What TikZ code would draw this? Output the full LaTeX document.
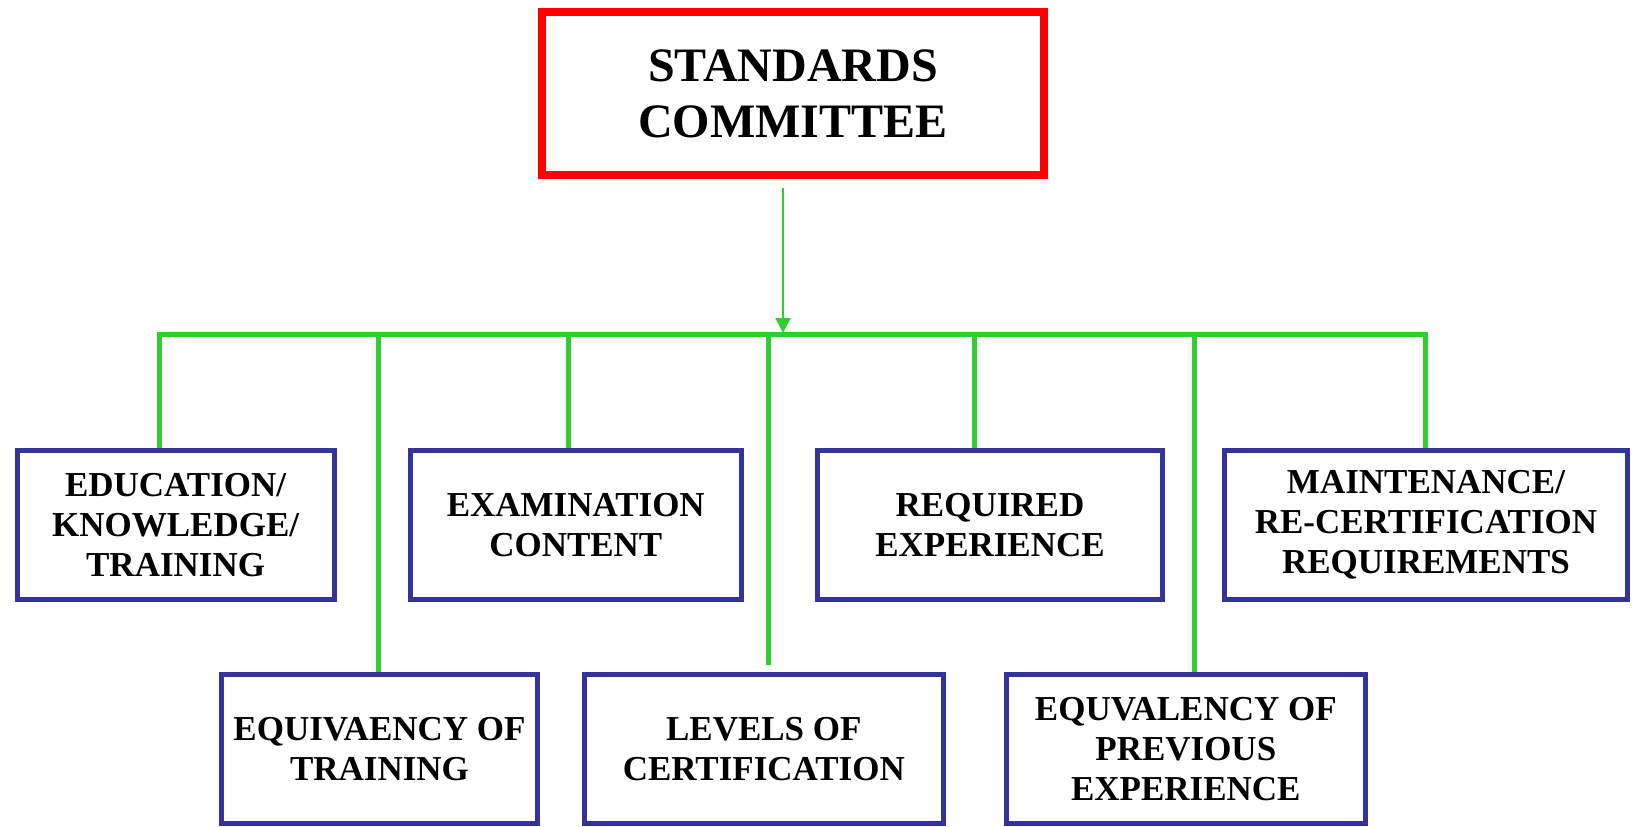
\documentclass[tikz,border=0pt]{standalone}
\usepackage{fontspec}
\setmainfont{Liberation Serif}
\usetikzlibrary{arrows.meta}
\definecolor{boxred}{RGB}{255,0,0}
\definecolor{busgreen}{RGB}{50,205,50}
\definecolor{boxblue}{RGB}{51,51,153}
\begin{document}
\begin{tikzpicture}[x=1pt,y=-1pt,
  topbox/.style={draw=boxred,line width=8pt,minimum width=502pt,minimum height=163pt,
    inner sep=0pt,align=center,font=\fontsize{48}{56}\selectfont\bfseries},
  subbox/.style={draw=boxblue,line width=5pt,minimum height=149pt,inner sep=0pt,
    align=center,font=\fontsize{35}{40}\selectfont\bfseries},
  bus/.style={draw=busgreen,line width=5pt,line join=miter},
  feed/.style={draw=busgreen,line width=2pt,-{Triangle[length=15pt,width=15pt]}}]
\useasboundingbox (0,0) rectangle (1634,827);

\node[topbox] (sc) at (793,93.5) {STANDARDS\\COMMITTEE};

\node[subbox,minimum width=317pt] (edu) at (175.6,525) {EDUCATION/\\KNOWLEDGE/\\TRAINING};
\node[subbox,minimum width=331.5pt] (exam) at (575.8,525) {EXAMINATION\\CONTENT};
\node[subbox,minimum width=345pt] (req) at (990,525) {REQUIRED\\EXPERIENCE};
\node[subbox,minimum width=403pt] (maint) at (1426,525) {MAINTENANCE/\\RE-CERTIFICATION\\REQUIREMENTS};

\node[subbox,minimum width=316pt] (eqt) at (379.5,749) {EQUIVAENCY OF\\TRAINING};
\node[subbox,minimum width=359.5pt] (lev) at (763.8,749) {LEVELS OF\\CERTIFICATION};
\node[subbox,minimum width=359.5pt] (eqe) at (1185.8,749) {EQUVALENCY OF\\PREVIOUS\\EXPERIENCE};

\coordinate (d1) at (159.4,334.5);
\coordinate (d2) at (378.3,334.5);
\coordinate (d3) at (568,334.5);
\coordinate (d4) at (768,334.5);
\coordinate (d5) at (974.4,334.5);
\coordinate (d6) at (1194.2,334.5);
\coordinate (d7) at (1425.6,334.5);
\coordinate (fa) at (783,187.5);
\coordinate (fb) at (783,333);

\draw[bus] (d1 |- edu.north) -- (d1) -- (d7) -- (d7 |- maint.north);
\draw[bus] (d2) -- (d2 |- eqt.north);
\draw[bus] (d3) -- (d3 |- exam.north);
\draw[bus,shorten >=7pt] (d4) -- (d4 |- lev.north);
\draw[bus] (d5) -- (d5 |- req.north);
\draw[bus] (d6) -- (d6 |- eqe.north);

\draw[feed] (fa) -- (fb);
\end{tikzpicture}
\end{document}
